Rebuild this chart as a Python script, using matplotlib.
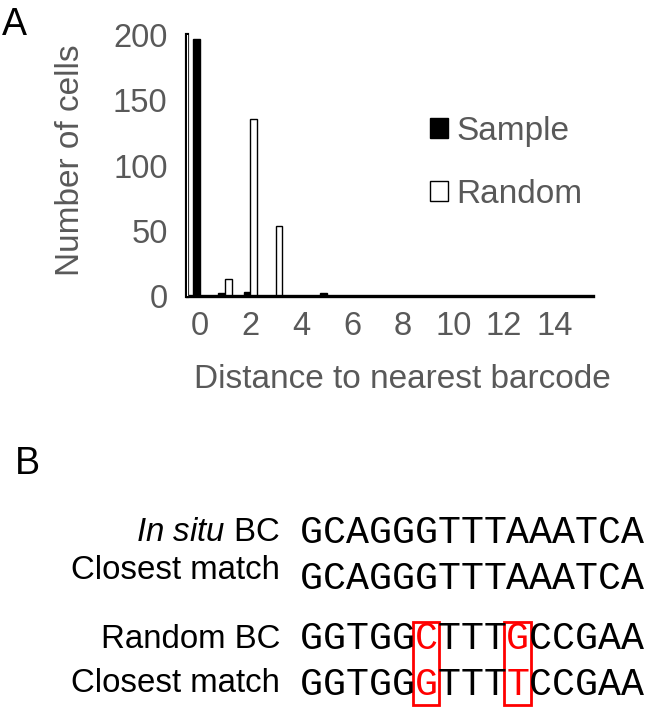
import matplotlib.pyplot as plt
import numpy as np
from matplotlib.patches import Rectangle

plt.rcParams['font.family'] = ['Liberation Sans', 'DejaVu Sans']
plt.rcParams['mathtext.fontset'] = 'custom'
plt.rcParams['mathtext.rm'] = 'Liberation Sans'
plt.rcParams['mathtext.it'] = 'Liberation Sans:italic'

# panel A data
distance = np.arange(16)
sample = [197, 2, 3, 0, 0, 2, 0, 0, 0, 0, 0, 0, 0, 0, 0, 0]
random_bc = [0, 13, 136, 54, 0, 0, 0, 0, 0, 0, 0, 0, 0, 0, 0, 0]
xticks = [0, 2, 4, 6, 8, 10, 12, 14]
yticks = [0, 50, 100, 150, 200]

# panel B data
row_labels = [r'$\it{In\ situ}$ BC', 'Closest match', 'Random BC', 'Closest match']
sequences = ['GCAGGGTTTAAATCA', 'GCAGGGTTTAAATCA', 'GGTGGCTTTGCCGAA', 'GGTGGGTTTTCCGAA']

W, H = 659, 726
gray = '#595959'


def fx(x):
    return x / W


def fy(y):
    return 1 - y / H


fig = plt.figure(figsize=(W / 100, H / 100), dpi=100)

# ---- A: histogram ----
ax = fig.add_axes([fx(187), fy(296), (593 - 187) / W, (296 - 35) / H])
w = 0.26
b1 = ax.bar(distance - 0.13, sample, w, color='black', edgecolor='black', linewidth=1, label='Sample')
b2 = ax.bar(distance + 0.13, random_bc, w, color='white', edgecolor='black', linewidth=1, label='Random')
ax.set_xlim(-0.5, 15.5)
ax.set_ylim(0, 200)
ax.set_xticks(xticks)
ax.set_yticks(yticks)
ax.tick_params(length=0, labelsize=23.5, labelcolor=gray)
ax.tick_params(axis='y', pad=14)
ax.tick_params(axis='x', pad=11)
for s in ['top', 'right']:
    ax.spines[s].set_visible(False)
ax.spines['left'].set_linewidth(3)
ax.spines['bottom'].set_linewidth(2.4)
ax.axvline(-0.5, 0, 1, color='white', lw=1, zorder=5)
ax.set_ylabel('Number of cells', fontsize=24, color=gray)
ax.yaxis.set_label_coords(-0.249, 0.52)
fig.text(fx(402), fy(388), 'Distance to nearest barcode', fontsize=24, color=gray,
         ha='center', va='baseline')
ax.legend(handles=[b1, b2], loc='upper left', bbox_to_anchor=(fx(430), fy(116)),
          bbox_transform=fig.transFigure, frameon=False, fontsize=24, labelcolor=gray,
          handlelength=0.55, handleheight=0.55, handletextpad=0.25, labelspacing=0.95,
          borderpad=0, borderaxespad=0)

fig.text(fx(2), fy(35), 'A', fontsize=27, ha='left', va='baseline')
fig.text(fx(15), fy(474), 'B', fontsize=27, ha='left', va='baseline')

# ---- B: barcode comparison ----
label_base = [541, 579, 648, 692]
seq_base = [543, 589, 649, 695]
for lab, yb in zip(row_labels, label_base):
    fig.text(fx(280), fy(yb), lab, fontsize=23.8, ha='right', va='baseline')

seq_fs = 27.5
cw = seq_fs * 100 / 72 * 0.6
x0 = 300
for r in range(0, 4, 2):
    top, bot = sequences[r], sequences[r + 1]
    diff = [i for i in range(len(top)) if top[i] != bot[i]]
    for k, seq in enumerate([top, bot]):
        for i, ch in enumerate(seq):
            fig.text(fx(x0 + i * cw), fy(seq_base[r + k]), ch, fontsize=seq_fs,
                     family='Liberation Mono', color='red' if i in diff else 'black',
                     ha='left', va='baseline')
    for i in diff:
        fig.add_artist(Rectangle((fx(x0 + i * cw - 2), fy(seq_base[r + 1] + 10)),
                                 (cw + 4) / W, (seq_base[r + 1] + 10 - (seq_base[r] - 27)) / H,
                                 transform=fig.transFigure, fill=False,
                                 edgecolor='red', linewidth=2))

fig.savefig('out.png', dpi=100)
